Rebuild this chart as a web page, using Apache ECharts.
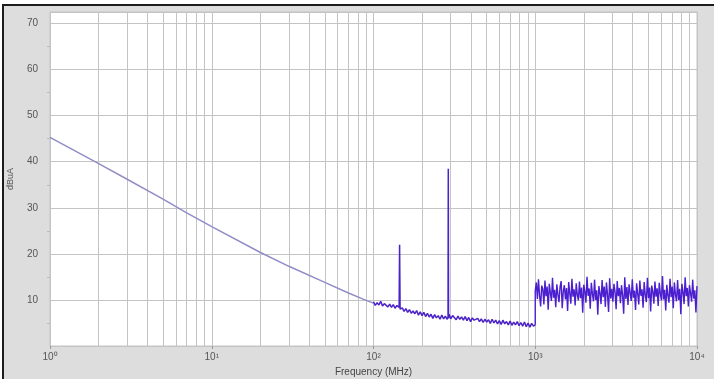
<!DOCTYPE html>
<html>
<head>
<meta charset="utf-8">
<script src="https://cdn.jsdelivr.net/npm/echarts@6/dist/echarts.min.js"></script>
<style>
  html, body { margin: 0; padding: 0; background: #fff; }
  #chart { width: 714px; height: 379px; }
</style>
</head>
<body>
<div id="chart"></div>
<script>
// low frequency slope (MHz, dBuA)
var slopeFreqs = [1, 2, 3, 5, 7, 10, 20, 30, 50, 70, 90, 100];
var slopeVals = [45.3, 39.6, 36.2, 31.9, 28.9, 25.9, 20.3, 17.3, 13.8, 11.5, 9.9, 9.3];

// 100 - 1000 MHz sweep, 90 log-spaced steps
var midStart = 100, midStop = 1000;
var midVals = [
  9.6, 8.8, 9.4, 8.9, 9.7, 8.7, 9.2, 9.5, 8.5, 9.1,
  8.4, 9.0, 8.2, 8.8, 8.9, 7.7, 8.3, 7.5, 8.1, 7.3,
  7.9, 7.1, 7.6, 7.0, 7.7, 6.7, 7.4, 6.6, 7.3, 6.4,
  7.1, 6.3, 6.9, 6.0, 6.8, 6.1, 6.6, 5.8, 6.7, 5.9,
  6.5, 5.8, 6.9, 5.9, 6.6, 6.8, 5.7, 6.5, 5.8, 6.3,
  5.6, 6.4, 5.5, 6.2, 5.3, 6.1, 5.6, 5.2, 6.0, 5.3,
  5.9, 5.1, 5.8, 5.2, 5.7, 4.9, 5.8, 5.0, 5.6, 4.8,
  5.5, 4.7, 5.6, 4.8, 5.3, 4.6, 5.4, 4.5, 5.2, 4.6,
  5.3, 4.4, 5.1, 4.3, 5.2, 4.2, 5.0, 4.1, 4.9, 4.3,
  4.6
];
// narrow spikes in the mid band
var spikeFreqs = [144, 145, 146, 289, 290, 291];
var spikeVals = [8.4, 22.0, 8.0, 6.3, 38.5, 6.0];

// 1000 - 10000 MHz sweep, 150 log-spaced steps
var highStart = 1000, highStop = 10000;
var highVals = [
  12.0, 13.8, 10.2, 14.5, 11.0, 8.6, 13.1, 12.4, 9.0, 14.2,
  10.8, 12.9, 7.9, 13.5, 11.6, 9.8, 14.8, 10.5, 12.2, 8.4,
  13.4, 11.2, 9.5, 12.8, 14.1, 8.2, 11.9, 13.2, 10.1, 12.6,
  7.6, 13.9, 11.4, 9.2, 14.6, 10.7, 12.3, 8.8, 13.6, 11.1,
  9.9, 14.0, 10.4, 12.7, 7.2, 13.3, 11.8, 9.4, 15.0, 10.9,
  12.5, 8.1, 13.7, 11.3, 9.7, 14.4, 10.0, 12.1, 6.8, 13.0,
  11.5, 9.1, 14.3, 10.6, 12.9, 8.5, 13.8, 11.2, 7.4, 14.7,
  10.3, 12.4, 9.6, 13.5, 11.7, 8.0, 14.1, 10.8, 12.6, 9.3,
  13.2, 11.0, 7.0, 14.9, 10.2, 12.8, 8.9, 13.4, 11.6, 9.8,
  14.5, 10.5, 12.0, 7.8, 13.6, 11.3, 9.0, 14.2, 10.9, 12.3,
  8.3, 13.9, 11.1, 9.5, 14.8, 10.4, 12.7, 7.5, 13.1, 11.8,
  9.2, 14.0, 10.7, 12.5, 8.7, 13.7, 11.4, 9.9, 15.2, 10.1,
  12.2, 7.7, 13.3, 11.0, 9.4, 14.6, 10.6, 12.9, 8.2, 13.8,
  11.2, 9.7, 14.3, 10.0, 12.4, 6.9, 13.5, 11.7, 9.1, 14.9,
  10.8, 12.6, 8.6, 13.2, 11.5, 9.6, 14.4, 10.3, 12.1, 7.3,
  13.0
];

// grid lines at 2..9 of each decade
var gridFreqs = [
  2, 3, 4, 5, 6, 7, 8, 9, 10,
  20, 30, 40, 50, 60, 70, 80, 90, 100,
  200, 300, 400, 500, 600, 700, 800, 900, 1000,
  2000, 3000, 4000, 5000, 6000, 7000, 8000, 9000
];
var xTickLabels = { 1: '10\u2070', 10: '10\u00b9', 100: '10\u00b2', 1000: '10\u00b3', 10000: '10\u2074' };

// sweep frequency of point i out of n over [start, stop], log spaced
function sweepFreq(start, stop, i, n) {
  return start * Math.pow(stop / start, i / (n - 1));
}

var slopeData = slopeFreqs.map(function (f, i) { return [f, slopeVals[i]]; });

var midData = midVals.map(function (v, i) {
  return [sweepFreq(midStart, midStop, i, midVals.length), v];
});
spikeFreqs.forEach(function (f, i) { midData.push([f, spikeVals[i]]); });
midData.sort(function (a, b) { return a[0] - b[0]; });

var highData = highVals.map(function (v, i) {
  return [sweepFreq(highStart, highStop, i, highVals.length), v];
});
// vertical step at 1 GHz
highData.unshift([1000, midVals[midVals.length - 1]]);

var chart = echarts.init(document.getElementById('chart'));

chart.setOption({
  backgroundColor: '#fff',
  animation: false,
  graphic: [{
    type: 'rect',
    z: -10,
    shape: { x: 3, y: 5, width: 712, height: 375 },
    style: { fill: '#dddddd', stroke: '#1c1c1c', lineWidth: 2 }
  }],
  grid: {
    left: 50,
    right: 17,
    top: 12,
    bottom: 33,
    outerBoundsMode: 'none',
    containLabel: false,
    show: true,
    backgroundColor: '#ffffff',
    borderColor: '#c4c4c4',
    borderWidth: 1
  },
  xAxis: {
    type: 'log',
    logBase: 10,
    min: 1,
    max: 10000,
    name: 'Frequency (MHz)',
    nameLocation: 'middle',
    nameGap: 21,
    nameTextStyle: { fontFamily: 'Liberation Sans', fontSize: 10, color: '#444' },
    axisLine: { show: false },
    axisTick: { show: true, length: 3, lineStyle: { color: '#999' } },
    splitLine: { show: true, lineStyle: { color: '#c4c4c4', width: 1 } },
    axisLabel: {
      fontFamily: 'Liberation Sans',
      fontSize: 10,
      color: '#555',
      margin: 6,
      formatter: function (v) { return xTickLabels[Math.round(v)] || ''; }
    }
  },
  yAxis: {
    type: 'value',
    min: 0,
    max: 72.5,
    interval: 10,
    name: 'dBuA',
    nameLocation: 'middle',
    nameGap: 35,
    nameTextStyle: { fontFamily: 'Liberation Sans', fontSize: 9, color: '#555' },
    axisLine: { show: false },
    axisTick: { show: false },
    minorTick: { show: true, splitNumber: 2, length: 3, lineStyle: { color: '#bbb' } },
    splitLine: { show: true, lineStyle: { color: '#c4c4c4', width: 1 } },
    axisLabel: {
      fontFamily: 'Liberation Sans',
      fontSize: 10,
      color: '#555',
      margin: 12,
      showMinLabel: false,
      showMaxLabel: false
    }
  },
  series: [
    {
      type: 'line',
      data: slopeData,
      showSymbol: false,
      silent: true,
      lineStyle: { color: '#918dc6', width: 1.5 },
      markLine: {
        silent: true,
        symbol: 'none',
        label: { show: false },
        lineStyle: { color: '#c4c4c4', width: 1, type: 'solid' },
        data: gridFreqs.map(function (f) { return { xAxis: f }; }),
        z: 0
      },
      z: 3
    },
    {
      type: 'line',
      data: midData,
      showSymbol: false,
      silent: true,
      lineStyle: { color: '#4a22c6', width: 1.5 },
      z: 4
    },
    {
      type: 'line',
      data: highData,
      showSymbol: false,
      silent: true,
      lineStyle: { color: '#4b1ed0', width: 1.4 },
      z: 4
    }
  ]
});
</script>
</body>
</html>
